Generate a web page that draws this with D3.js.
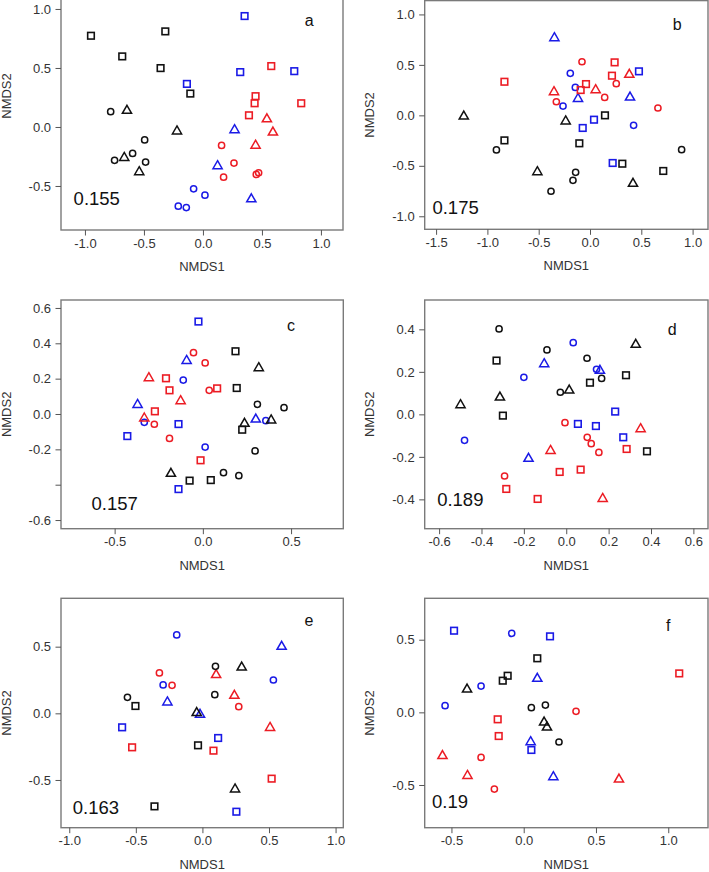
<!DOCTYPE html>
<html>
<head>
<meta charset="utf-8">
<script src="https://cdn.jsdelivr.net/npm/d3@7"></script>
<style>
  html, body { margin: 0; padding: 0; background: #fff; }
  svg { display: block; }
</style>
</head>
<body>
<svg id="chart" width="709" height="872"></svg>
<script>
// ---------- DATA ----------
// groups: first letter = colour group (K black, R red, B blue), second = symbol (s square, c circle, t triangle)
const pointsA = [
  [-0.949,0.773,"Ks"],[-0.319,0.81,"Ks"],[-0.684,0.598,"Ks"],[-0.359,0.499,"Ks"],[-0.107,0.283,"Ks"],
  [-0.644,0.15,"Kt"],[-0.22,-0.025,"Kt"],[-0.667,-0.25,"Kt"],[-0.54,-0.37,"Kt"],
  [-0.782,0.13,"Kc"],[-0.494,-0.11,"Kc"],[-0.596,-0.224,"Kc"],[-0.749,-0.283,"Kc"],[-0.486,-0.297,"Kc"],
  [0.353,0.94,"Bs"],[0.316,0.465,"Bs"],[0.774,0.473,"Bs"],[-0.136,0.365,"Bs"],
  [0.268,-0.015,"Bt"],[0.124,-0.32,"Bt"],[0.41,-0.6,"Bt"],
  [-0.079,-0.524,"Bc"],[0.017,-0.578,"Bc"],[-0.209,-0.671,"Bc"],[-0.141,-0.683,"Bc"],
  [0.579,0.516,"Rs"],[0.446,0.261,"Rs"],[0.438,0.201,"Rs"],[0.39,0.099,"Rs"],[0.833,0.201,"Rs"],
  [0.542,0.078,"Rt"],[0.593,-0.035,"Rt"],[0.446,-0.146,"Rt"],
  [0.158,-0.156,"Rc"],[0.263,-0.306,"Rc"],[0.175,-0.425,"Rc"],[0.452,-0.402,"Rc"],[0.472,-0.388,"Rc"]
];
const pointsB = [
  [-0.347,0.779,"Bt"],[-0.117,0.178,"Bt"],[0.39,0.191,"Bt"],
  [-0.192,0.416,"Bc"],[-0.143,0.277,"Bc"],[-0.263,0.092,"Bc"],[0.425,-0.099,"Bc"],
  [0.477,0.436,"Bs"],[-0.071,-0.125,"Bs"],[0.039,-0.043,"Bs"],[0.221,-0.472,"Bs"],
  [-0.834,0.333,"Rs"],[0.24,0.525,"Rs"],[0.214,0.393,"Rs"],[-0.039,0.31,"Rs"],[-0.091,0.251,"Rs"],
  [-0.351,0.244,"Rt"],[0.055,0.264,"Rt"],[0.383,0.416,"Rt"],
  [-0.078,0.531,"Rc"],[-0.328,0.135,"Rc"],[0.143,0.178,"Rc"],[0.256,0.314,"Rc"],[0.662,0.073,"Rc"],
  [-1.23,0.003,"Kt"],[-0.237,-0.046,"Kt"],[-0.513,-0.548,"Kt"],[0.419,-0.663,"Kt"],
  [-0.834,-0.248,"Ks"],[-0.104,-0.277,"Ks"],[0.146,0.0,"Ks"],[0.315,-0.479,"Ks"],[0.714,-0.551,"Ks"],
  [-0.912,-0.343,"Kc"],[-0.14,-0.564,"Kc"],[-0.166,-0.644,"Kc"],[-0.38,-0.752,"Kc"],[0.893,-0.34,"Kc"]
];
const pointsC = [
  [-0.025,0.523,"Bs"],[-0.138,-0.057,"Bs"],[-0.428,-0.125,"Bs"],[-0.138,-0.425,"Bs"],
  [-0.092,0.309,"Bt"],[-0.37,0.06,"Bt"],[0.3,-0.023,"Bt"],
  [-0.111,0.192,"Bc"],[-0.332,-0.047,"Bc"],[0.013,-0.187,"Bc"],[0.357,-0.038,"Bc"],
  [-0.053,0.347,"Rc"],[0.013,0.289,"Rc"],[0.036,0.134,"Rc"],[-0.275,-0.058,"Rc"],[-0.189,-0.138,"Rc"],
  [-0.306,0.211,"Rt"],[-0.126,0.081,"Rt"],[-0.332,-0.017,"Rt"],
  [-0.209,0.202,"Rs"],[-0.189,0.134,"Rs"],[0.081,0.145,"Rs"],[-0.272,0.015,"Rs"],[-0.013,-0.262,"Rs"],
  [0.185,0.355,"Ks"],[0.192,0.147,"Ks"],[0.223,-0.089,"Ks"],[-0.075,-0.377,"Ks"],[0.045,-0.374,"Ks"],
  [0.317,0.268,"Kt"],[0.236,-0.047,"Kt"],[0.387,-0.028,"Kt"],[-0.181,-0.33,"Kt"],
  [0.309,0.055,"Kc"],[0.46,0.036,"Kc"],[0.296,-0.209,"Kc"],[0.117,-0.332,"Kc"],[0.204,-0.349,"Kc"]
];
const pointsD = [
  [-0.317,0.402,"Kc"],[-0.091,0.303,"Kc"],[0.098,0.264,"Kc"],[0.167,0.169,"Kc"],[-0.028,0.104,"Kc"],
  [0.328,0.334,"Kt"],[0.014,0.119,"Kt"],[-0.313,0.086,"Kt"],[-0.499,0.05,"Kt"],
  [-0.329,0.253,"Ks"],[0.112,0.149,"Ks"],[0.282,0.184,"Ks"],[-0.299,-0.006,"Ks"],[0.381,-0.174,"Ks"],
  [0.033,0.337,"Bc"],[-0.2,0.174,"Bc"],[0.143,0.212,"Bc"],[-0.48,-0.122,"Bc"],
  [-0.104,0.243,"Bt"],[0.159,0.212,"Bt"],[-0.178,-0.202,"Bt"],
  [0.231,0.013,"Bs"],[0.055,-0.045,"Bs"],[0.14,-0.055,"Bs"],[0.269,-0.108,"Bs"],
  [-0.006,-0.039,"Rc"],[0.099,-0.108,"Rc"],[0.118,-0.138,"Rc"],[0.154,-0.179,"Rc"],[-0.291,-0.29,"Rc"],
  [0.351,-0.063,"Rt"],[-0.074,-0.165,"Rt"],[0.172,-0.391,"Rt"],
  [0.285,-0.163,"Rs"],[-0.031,-0.271,"Rs"],[0.068,-0.26,"Rs"],[-0.283,-0.351,"Rs"],[-0.135,-0.398,"Rs"]
];
const pointsE = [
  [-0.193,0.588,"Bc"],[-0.295,0.213,"Bc"],[0.533,0.25,"Bc"],
  [0.595,0.51,"Bt"],[-0.263,0.093,"Bt"],[-0.018,0.0,"Bt"],
  [-0.603,-0.105,"Bs"],[0.118,-0.185,"Bs"],[0.255,-0.738,"Bs"],
  [-0.323,0.303,"Rc"],[-0.228,0.21,"Rc"],[0.273,0.05,"Rc"],
  [0.103,0.298,"Rt"],[0.24,0.143,"Rt"],[0.508,-0.098,"Rt"],
  [-0.528,-0.255,"Rs"],[0.083,-0.28,"Rs"],[0.52,-0.49,"Rs"],
  [-0.563,0.12,"Kc"],[0.098,0.353,"Kc"],[0.093,0.14,"Kc"],
  [0.295,0.355,"Kt"],[-0.043,0.013,"Kt"],[0.245,-0.56,"Kt"],
  [-0.503,0.055,"Ks"],[-0.033,-0.24,"Ks"],[-0.36,-0.698,"Ks"]
];
const pointsF = [
  [-0.482,0.562,"Bs"],[0.182,0.523,"Bs"],[0.053,-0.259,"Bs"],
  [-0.083,0.544,"Bc"],[-0.295,0.181,"Bc"],[-0.544,0.046,"Bc"],
  [0.094,0.241,"Bt"],[0.048,-0.195,"Bt"],[0.205,-0.436,"Bt"],
  [0.094,0.372,"Ks"],[-0.111,0.252,"Ks"],[-0.145,0.218,"Ks"],
  [-0.392,0.167,"Kt"],[0.141,-0.06,"Kt"],[0.161,-0.094,"Kt"],
  [0.053,0.032,"Kc"],[0.15,0.05,"Kc"],[0.244,-0.204,"Kc"],
  [1.076,0.268,"Rs"],[-0.18,-0.048,"Rs"],[-0.173,-0.163,"Rs"],
  [0.362,0.007,"Rc"],[-0.295,-0.31,"Rc"],[-0.203,-0.528,"Rc"],
  [-0.562,-0.291,"Rt"],[-0.389,-0.427,"Rt"],[0.659,-0.452,"Rt"]
];

const xTicksA = [-1, -0.5, 0, 0.5, 1];       const xLabelsA = ["-1.0","-0.5","0.0","0.5","1.0"];
const yTicksA = [-0.5, 0, 0.5, 1];           const yLabelsA = ["-0.5","0.0","0.5","1.0"];
const xTicksB = [-1.5, -1, -0.5, 0, 0.5, 1]; const xLabelsB = ["-1.5","-1.0","-0.5","0.0","0.5","1.0"];
const yTicksB = [-1, -0.5, 0, 0.5, 1];       const yLabelsB = ["-1.0","-0.5","0.0","0.5","1.0"];
const xTicksC = [-0.5, 0, 0.5];              const xLabelsC = ["-0.5","0.0","0.5"];
const yTicksC = [-0.6, -0.4, -0.2, 0, 0.2, 0.4, 0.6]; const yLabelsC = ["-0.6","","-0.2","0.0","0.2","0.4","0.6"];
const xTicksD = [-0.6, -0.4, -0.2, 0, 0.2, 0.4, 0.6]; const xLabelsD = ["-0.6","-0.4","-0.2","0.0","0.2","0.4","0.6"];
const yTicksD = [-0.4, -0.2, 0, 0.2, 0.4];   const yLabelsD = ["-0.4","-0.2","0.0","0.2","0.4"];
const xTicksE = [-1, -0.5, 0, 0.5, 1];       const xLabelsE = ["-1.0","-0.5","0.0","0.5","1.0"];
const yTicksE = [-0.5, 0, 0.5];              const yLabelsE = ["-0.5","0.0","0.5"];
const xTicksF = [-0.5, 0, 0.5, 1];           const xLabelsF = ["-0.5","0.0","0.5","1.0"];
const yTicksF = [-0.5, 0, 0.5];              const yLabelsF = ["-0.5","0.0","0.5"];

const panelLetters = ["a","b","c","d","e","f"];
const stressValues = ["0.155","0.175","0.157","0.189","0.163","0.19"];
// annotation anchor positions in data units
const letterPos = [[0.9,0.9],[0.85,0.9],[0.5,0.5],[0.5,0.4],[0.8,0.7],[1.0,0.6]];
const stressPos = [[-0.9,-0.61],[-1.31,-0.91],[-0.5,-0.505],[-0.5,-0.4],[-0.8,-0.705],[-0.51,-0.615]];

// ---------- LAYOUT / STYLE ----------
const panels = [
  { pts: pointsA, xt: xTicksA, xl: xLabelsA, yt: yTicksA, yl: yLabelsA, box: [61, -38, 343, 230],   xlim: [-1.203, 1.187], ylim: [-0.873, 1.398] },
  { pts: pointsB, xt: xTicksB, xl: xLabelsB, yt: yTicksB, yl: yLabelsB, box: [424.7, 0.6, 708, 229.3], xlim: [-1.611, 1.15], ylim: [-1.129, 1.137] },
  { pts: pointsC, xt: xTicksC, xl: xLabelsC, yt: yTicksC, yl: yLabelsC, box: [61, 300, 343.3, 528.7], xlim: [-0.804, 0.796], ylim: [-0.649, 0.645] },
  { pts: pointsD, xt: xTicksD, xl: xLabelsD, yt: yTicksD, yl: yLabelsD, box: [424.7, 300, 708, 528.7], xlim: [-0.668, 0.669], ylim: [-0.538, 0.538] },
  { pts: pointsE, xt: xTicksE, xl: xLabelsE, yt: yTicksE, yl: yLabelsE, box: [61, 598.3, 343.3, 827.7], xlim: [-1.062, 1.058], ylim: [-0.858, 0.863] },
  { pts: pointsF, xt: xTicksF, xl: xLabelsF, yt: yTicksF, yl: yLabelsF, box: [424.7, 598.3, 708, 827.7], xlim: [-0.685, 1.275], ylim: [-0.794, 0.785] }
];

const colorOf = { K: "#111111", R: "#ec1c24", B: "#1a1ae6" };
const FONT = "'Liberation Sans', Arial, Helvetica, sans-serif";

const svg = d3.select("#chart");
svg.append("rect").attr("width", 709).attr("height", 872).attr("fill", "#fff");

panels.forEach((p, i) => {
  const [x0, y0, x1, y1] = p.box;
  const x = d3.scaleLinear().domain(p.xlim).range([x0, x1]);
  const y = d3.scaleLinear().domain(p.ylim).range([y1, y0]);
  const g = svg.append("g");

  // box
  g.append("rect")
    .attr("x", x0).attr("y", y0).attr("width", x1 - x0).attr("height", y1 - y0)
    .attr("fill", "none").attr("stroke", "#7a7a7a").attr("stroke-width", 1.4);

  // x axis
  const xa = g.append("g").attr("transform", `translate(0,${y1})`)
    .call(d3.axisBottom(x).tickValues(p.xt).tickFormat((d, k) => p.xl[k]).tickSize(5.5).tickSizeOuter(0).tickPadding(3));
  xa.select(".domain").remove();
  xa.selectAll("line").attr("stroke", "#555").attr("stroke-width", 1);
  xa.selectAll("text").attr("fill", "#333").style("font-family", FONT).style("font-size", "13px");

  // y axis
  const ya = g.append("g").attr("transform", `translate(${x0},0)`)
    .call(d3.axisLeft(y).tickValues(p.yt).tickFormat((d, k) => p.yl[k]).tickSize(5.5).tickSizeOuter(0).tickPadding(4.5));
  ya.select(".domain").remove();
  ya.selectAll("line").attr("stroke", "#555").attr("stroke-width", 1);
  ya.selectAll("text").attr("fill", "#333").style("font-family", FONT).style("font-size", "13px");

  // axis titles
  g.append("text").attr("x", (x0 + x1) / 2).attr("y", y1 + 41)
    .attr("text-anchor", "middle").attr("fill", "#333")
    .style("font-family", FONT).style("font-size", "13px").text("NMDS1");
  g.append("text")
    .attr("transform", `translate(${x0 - 50.5},${(y0 + y1) / 2}) rotate(-90)`)
    .attr("text-anchor", "middle").attr("fill", "#333")
    .style("font-family", FONT).style("font-size", "13px").text("NMDS2");

  // points
  const tri = "M0,-4L4.6,4L-4.6,4Z";
  p.pts.forEach(d => {
    const cx = x(d[0]), cy = y(d[1]);
    const col = colorOf[d[2][0]];
    const shp = d[2][1];
    if (shp === "c") {
      g.append("circle").attr("cx", cx).attr("cy", cy).attr("r", 3.1)
        .attr("fill", "none").attr("stroke", col).attr("stroke-width", 1.5);
    } else if (shp === "s") {
      g.append("rect").attr("x", cx - 3.3).attr("y", cy - 3.3).attr("width", 6.6).attr("height", 6.6)
        .attr("fill", "none").attr("stroke", col).attr("stroke-width", 1.6);
    } else {
      g.append("path").attr("d", tri).attr("transform", `translate(${cx},${cy})`)
        .attr("fill", "none").attr("stroke", col).attr("stroke-width", 1.5).attr("stroke-linejoin", "miter");
    }
  });

  // panel letter
  g.append("text").attr("x", x(letterPos[i][0])).attr("y", y(letterPos[i][1]))
    .attr("text-anchor", "middle").attr("dominant-baseline", "central").attr("fill", "#111")
    .style("font-family", FONT).style("font-size", "16px").text(panelLetters[i]);

  // stress value
  g.append("text").attr("x", x(stressPos[i][0])).attr("y", y(stressPos[i][1]))
    .attr("text-anchor", "middle").attr("dominant-baseline", "central").attr("fill", "#111")
    .style("font-family", FONT).style("font-size", "18.5px").text(stressValues[i]);
});
</script>
</body>
</html>
